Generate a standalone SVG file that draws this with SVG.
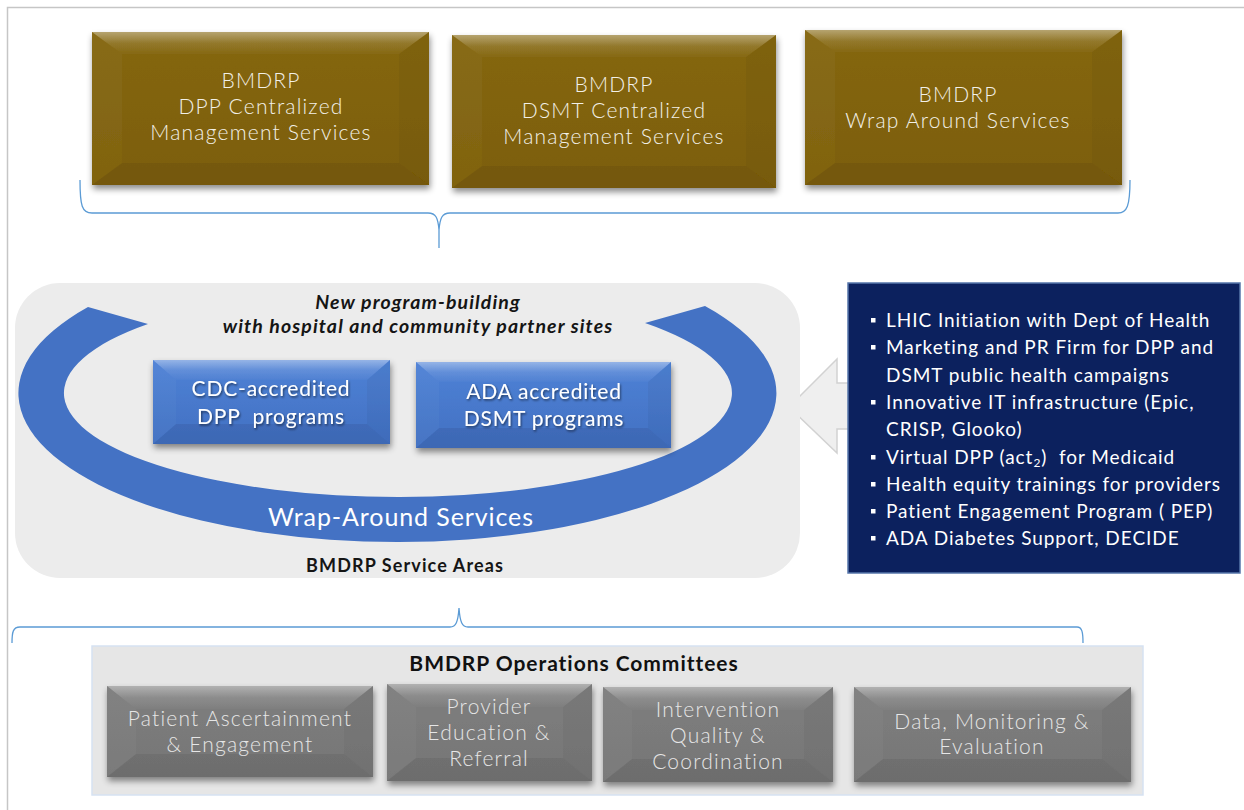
<svg xmlns="http://www.w3.org/2000/svg" width="1244" height="810" viewBox="0 0 1244 810">
  <defs>
    <style>
      .lbl { font-family: Lato, "Liberation Sans", sans-serif; text-anchor: middle; }
      .gold-t { fill: #f2f0e8; font-size: 21px; font-weight: 300; letter-spacing: 1.2px; }
      .blue-t { fill: #ffffff; font-size: 21px; letter-spacing: 0.8px; }
      .gray-t { fill: #e6e6e6; font-size: 21px; font-weight: 300; letter-spacing: 1.2px; }
      .list-t { font-family: Lato, "Liberation Sans", sans-serif; fill: #ffffff; font-size: 19px; letter-spacing: 0.95px; }
      .brace { fill: none; stroke: #5b9bd5; stroke-width: 1.3; }
      .hi { fill: #ffffff; }
      .lo { fill: #000000; }
    </style>
    <filter id="shadow" x="-10%" y="-10%" width="125%" height="135%">
      <feDropShadow dx="1" dy="4" stdDeviation="3" flood-color="#000" flood-opacity="0.45"/>
    </filter>
    <filter id="txtShadow" x="-5%" y="-20%" width="110%" height="150%">
      <feDropShadow dx="1" dy="1.5" stdDeviation="1" flood-color="#000" flood-opacity="0.55"/>
    </filter>
    <linearGradient id="goldFill" x1="0" y1="0" x2="0" y2="1">
      <stop offset="0" stop-color="#856710"/>
      <stop offset="1" stop-color="#7c5e08"/>
    </linearGradient>
    <linearGradient id="blueFill" x1="0" y1="0" x2="0" y2="1">
      <stop offset="0" stop-color="#4f82d6"/>
      <stop offset="1" stop-color="#4170c2"/>
    </linearGradient>
    <linearGradient id="grayFill" x1="0" y1="0" x2="0" y2="1">
      <stop offset="0" stop-color="#7e7e7e"/>
      <stop offset="1" stop-color="#767676"/>
    </linearGradient>
    <linearGradient id="topFacet" x1="0" y1="0" x2="0" y2="1">
      <stop offset="0" stop-color="#fff" stop-opacity="0.4"/>
      <stop offset="0.5" stop-color="#fff" stop-opacity="0.12"/>
      <stop offset="1" stop-color="#fff" stop-opacity="0.02"/>
    </linearGradient>
  </defs>

  <!-- page frame (top and left rules) -->
  <path d="M7.5 810 V7.5 H1244" fill="none" stroke="#c6c6c6" stroke-width="1.5"/>

  <!-- ===== top tier: centralized services ===== -->
  <g id="node-dpp-central" filter="url(#shadow)">
    <rect x="92" y="32" width="337" height="153" fill="url(#goldFill)"/>
    <polygon points="92,32 429,32 399,54 122,54" fill="url(#topFacet)"/>
    <polygon points="92,32 122,54 122,163 92,185" class="hi" opacity="0.03"/>
    <polygon points="429,32 399,54 399,163 429,185" class="lo" opacity="0.04"/>
    <polygon points="92,185 429,185 399,163 122,163" class="lo" opacity="0.06"/>
  </g>
  <g id="label-dpp-central" class="lbl gold-t">
    <text x="261" y="88">BMDRP</text>
    <text x="261" y="114">DPP Centralized</text>
    <text x="261" y="140">Management Services</text>
  </g>

  <g id="node-dsmt-central" filter="url(#shadow)">
    <rect x="452" y="35" width="324" height="153" fill="url(#goldFill)"/>
    <polygon points="452,35 776,35 746,57 482,57" fill="url(#topFacet)"/>
    <polygon points="452,35 482,57 482,166 452,188" class="hi" opacity="0.03"/>
    <polygon points="776,35 746,57 746,166 776,188" class="lo" opacity="0.04"/>
    <polygon points="452,188 776,188 746,166 482,166" class="lo" opacity="0.06"/>
  </g>
  <g id="label-dsmt-central" class="lbl gold-t">
    <text x="614" y="92">BMDRP</text>
    <text x="614" y="118">DSMT Centralized</text>
    <text x="614" y="144">Management Services</text>
  </g>

  <g id="node-wrap-around" filter="url(#shadow)">
    <rect x="805" y="30" width="317" height="155" fill="url(#goldFill)"/>
    <polygon points="805,30 1122,30 1092,52 835,52" fill="url(#topFacet)"/>
    <polygon points="805,30 835,52 835,163 805,185" class="hi" opacity="0.03"/>
    <polygon points="1122,30 1092,52 1092,163 1122,185" class="lo" opacity="0.04"/>
    <polygon points="805,185 1122,185 1092,163 835,163" class="lo" opacity="0.06"/>
  </g>
  <g id="label-wrap-around" class="lbl gold-t">
    <text x="958" y="102">BMDRP</text>
    <text x="958" y="128">Wrap Around Services</text>
  </g>

  <!-- ===== connectors: grouping braces and the inbound arrow ===== -->
  <g id="connectors">
    <path class="brace" d="M80 180 C80 206 82 213 92 213 H428 C436 213 438 218 439 230 V248 M439 230 C440 218 442 213 450 213 H1118 C1127 213 1130 206 1130 180"/>
    <path class="brace" d="M12 643 C12 632 13 627 20 627 H450 C456 627 458 622 459 608 M459 608 C460 622 462 627 468 627 H1077 C1082 627 1083 632 1083 643"/>
    <polygon id="arrow-support" points="789,407 837,359 837,383 849,383 849,429 837,429 837,453" fill="#efefef" stroke="#d2d2d2" stroke-width="1.5"/>
  </g>

  <!-- ===== service area panel ===== -->
  <g id="node-service-areas">
    <rect x="15" y="283" width="785" height="295" rx="45" ry="45" fill="#ececec"/>
    <path d="M88 307 A379 149 0 1 0 705 306 L645 323 A334 104 0 1 1 148 324 Z" fill="#4472c4"/>
    <text class="lbl" x="418" y="309" font-size="19.5" font-weight="700" font-style="italic" letter-spacing="1.1" fill="#151515">New program-building</text>
    <text class="lbl" x="418" y="333" font-size="19.5" font-weight="700" font-style="italic" letter-spacing="1.1" fill="#151515">with hospital and community partner sites</text>
    <text class="lbl" x="401" y="526" font-size="25" letter-spacing="0.9" fill="#ffffff">Wrap-Around Services</text>
    <text class="lbl" x="405" y="572" font-size="18" font-weight="700" letter-spacing="1.1" fill="#151515">BMDRP Service Areas</text>
  </g>

  <g id="node-cdc-dpp" filter="url(#shadow)">
    <rect x="153" y="360" width="237" height="84" fill="url(#blueFill)"/>
    <polygon points="153,360 390,360 367,380 176,380" fill="url(#topFacet)"/>
    <polygon points="153,360 176,380 176,424 153,444" class="hi" opacity="0.03"/>
    <polygon points="390,360 367,380 367,424 390,444" class="lo" opacity="0.04"/>
    <polygon points="153,444 390,444 367,424 176,424" class="lo" opacity="0.07"/>
  </g>
  <g id="label-cdc-dpp" class="lbl blue-t" filter="url(#txtShadow)">
    <text x="271" y="396">CDC-accredited</text>
    <text x="271" y="424" xml:space="preserve">DPP  programs</text>
  </g>

  <g id="node-ada-dsmt" filter="url(#shadow)">
    <rect x="416" y="362" width="255" height="86" fill="url(#blueFill)"/>
    <polygon points="416,362 671,362 648,382 439,382" fill="url(#topFacet)"/>
    <polygon points="416,362 439,382 439,428 416,448" class="hi" opacity="0.03"/>
    <polygon points="671,362 648,382 648,428 671,448" class="lo" opacity="0.04"/>
    <polygon points="416,448 671,448 648,428 439,428" class="lo" opacity="0.07"/>
  </g>
  <g id="label-ada-dsmt" class="lbl blue-t" filter="url(#txtShadow)">
    <text x="544" y="399">ADA accredited</text>
    <text x="544" y="426">DSMT programs</text>
  </g>

  <!-- ===== supporting initiatives ===== -->
  <g id="node-initiatives">
    <rect x="848" y="283" width="392" height="290" fill="#0c215e" stroke="#5676aa" stroke-width="1.5"/>
    <g fill="#ffffff">
      <rect x="871" y="318" width="4.5" height="4.5"/>
      <rect x="871" y="345" width="4.5" height="4.5"/>
      <rect x="871" y="400" width="4.5" height="4.5"/>
      <rect x="871" y="455" width="4.5" height="4.5"/>
      <rect x="871" y="482" width="4.5" height="4.5"/>
      <rect x="871" y="509" width="4.5" height="4.5"/>
      <rect x="871" y="536" width="4.5" height="4.5"/>
    </g>
    <text class="list-t" x="886" y="327">LHIC Initiation with Dept of Health</text>
    <text class="list-t" x="886" y="354">Marketing and PR Firm for DPP and</text>
    <text class="list-t" x="886" y="382">DSMT public health campaigns</text>
    <text class="list-t" x="886" y="409">Innovative IT infrastructure (Epic,</text>
    <text class="list-t" x="886" y="436">CRISP, Glooko)</text>
    <text class="list-t" x="886" y="464" xml:space="preserve">Virtual DPP (act<tspan font-size="12" dy="3">2</tspan><tspan dy="-3">)  for Medicaid</tspan></text>
    <text class="list-t" x="886" y="491">Health equity trainings for providers</text>
    <text class="list-t" x="886" y="518">Patient Engagement Program ( PEP)</text>
    <text class="list-t" x="886" y="545">ADA Diabetes Support, DECIDE</text>
  </g>

  <!-- ===== operations committees ===== -->
  <g id="node-operations">
    <rect x="92" y="646" width="1051" height="149" fill="#e6e6e6" stroke="#d6e2f2" stroke-width="1.5"/>
    <text class="lbl" x="574" y="671" font-size="21" font-weight="700" letter-spacing="0.95" fill="#111111">BMDRP Operations Committees</text>
  </g>

  <g id="node-patient" filter="url(#shadow)">
    <rect x="107" y="686" width="266" height="91" fill="url(#grayFill)"/>
    <polygon points="107,686 373,686 344,709 136,709" fill="url(#topFacet)"/>
    <polygon points="107,686 136,709 136,754 107,777" class="hi" opacity="0.03"/>
    <polygon points="373,686 344,709 344,754 373,777" class="lo" opacity="0.04"/>
    <polygon points="107,777 373,777 344,754 136,754" class="lo" opacity="0.07"/>
  </g>
  <g id="label-patient" class="lbl gray-t">
    <text x="240" y="726">Patient Ascertainment</text>
    <text x="240" y="752">&amp; Engagement</text>
  </g>

  <g id="node-provider" filter="url(#shadow)">
    <rect x="387" y="684" width="205" height="97" fill="url(#grayFill)"/>
    <polygon points="387,684 592,684 563,707 416,707" fill="url(#topFacet)"/>
    <polygon points="387,684 416,707 416,758 387,781" class="hi" opacity="0.03"/>
    <polygon points="592,684 563,707 563,758 592,781" class="lo" opacity="0.04"/>
    <polygon points="387,781 592,781 563,758 416,758" class="lo" opacity="0.07"/>
  </g>
  <g id="label-provider" class="lbl gray-t">
    <text x="489" y="714">Provider</text>
    <text x="489" y="740">Education &amp;</text>
    <text x="489" y="766">Referral</text>
  </g>

  <g id="node-intervention" filter="url(#shadow)">
    <rect x="603" y="687" width="230" height="95" fill="url(#grayFill)"/>
    <polygon points="603,687 833,687 804,710 632,710" fill="url(#topFacet)"/>
    <polygon points="603,687 632,710 632,759 603,782" class="hi" opacity="0.03"/>
    <polygon points="833,687 804,710 804,759 833,782" class="lo" opacity="0.04"/>
    <polygon points="603,782 833,782 804,759 632,759" class="lo" opacity="0.07"/>
  </g>
  <g id="label-intervention" class="lbl gray-t">
    <text x="718" y="717">Intervention</text>
    <text x="718" y="743">Quality &amp;</text>
    <text x="718" y="769">Coordination</text>
  </g>

  <g id="node-data" filter="url(#shadow)">
    <rect x="854" y="687" width="277" height="95" fill="url(#grayFill)"/>
    <polygon points="854,687 1131,687 1102,710 883,710" fill="url(#topFacet)"/>
    <polygon points="854,687 883,710 883,759 854,782" class="hi" opacity="0.03"/>
    <polygon points="1131,687 1102,710 1102,759 1131,782" class="lo" opacity="0.04"/>
    <polygon points="854,782 1131,782 1102,759 883,759" class="lo" opacity="0.07"/>
  </g>
  <g id="label-data" class="lbl gray-t">
    <text x="992" y="729">Data, Monitoring &amp;</text>
    <text x="992" y="754">Evaluation</text>
  </g>
</svg>
